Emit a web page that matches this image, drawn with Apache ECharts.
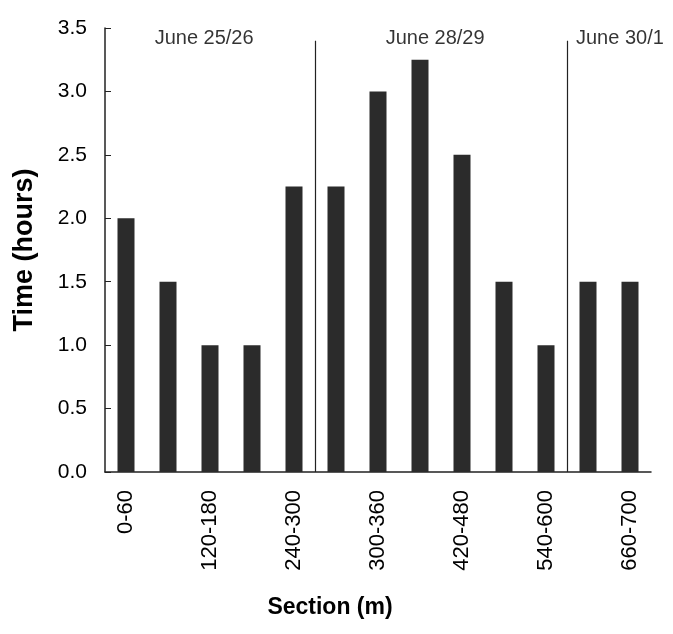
<!DOCTYPE html>
<html>
<head>
<meta charset="utf-8">
<script src="https://cdn.jsdelivr.net/npm/echarts@6/dist/echarts.min.js"></script>
<style>html,body{margin:0;padding:0;background:#fff;}#c{width:673px;height:634px;}</style>
</head>
<body>
<div id="c"></div>
<script>
var categories = ['0-60','60-120','120-180','180-240','240-300','240-300','300-360','360-420','420-480','480-540','540-600','600-660','660-700'];
var timeHours = [2.0,1.5,1.0,1.0,2.25,2.25,3.0,3.25,2.5,1.5,1.0,1.5,1.5];
var yTicks = [0,0.5,1.0,1.5,2.0,2.5,3.0,3.5];
var periodNames = ['June 25/26','June 28/29','June 30/1'];
var periodLabelPos = [1.86, 7.36, 11.76];
var periodBreaks = [4.5, 10.5];

var FONT = '"Liberation Sans", Arial, Helvetica, sans-serif';
var chart = echarts.init(document.getElementById('c'), null, {renderer:'canvas'});
chart.setOption({
  animation:false,
  backgroundColor:'#fff',
  grid:{left:105, right:22, top:28, bottom:162, containLabel:false, outerBoundsMode:'none'},
  xAxis:[{
    type:'category', data:categories, boundaryGap:true,
    name:'Section (m)', nameLocation:'middle', nameGap:124,
    nameTextStyle:{fontFamily:FONT, fontSize:23, fontWeight:'bold', color:'#000', padding:[0,96,0,0]},
    axisLine:{lineStyle:{color:'#222', width:1.5}},
    axisTick:{inside:true, length:5, interval:0, lineStyle:{color:'#222'}},
    axisLabel:{interval:1, rotate:90, fontFamily:FONT, fontSize:22, color:'#000', margin:18}
  },{
    type:'value', min:-0.5, max:12.5, show:false
  }],
  yAxis:{
    type:'value', min:0, max:3.5, interval:0.5,
    name:'Time (hours)', nameLocation:'middle', nameGap:67, nameRotate:90,
    nameTextStyle:{fontFamily:FONT, fontSize:27, fontWeight:'bold', color:'#000'},
    axisLine:{show:true, onZero:false, lineStyle:{color:'#222', width:1.5}},
    axisTick:{show:true, inside:true, length:6, lineStyle:{color:'#222'}},
    splitLine:{show:false},
    axisLabel:{fontFamily:FONT, fontSize:21, color:'#000', margin:18,
      formatter:function(v){return v.toFixed(1);}}
  },
  series:[{
    type:'bar', data:timeHours, barWidth:17,
    itemStyle:{color:'#2b2b2b'}
  },{
    type:'scatter', xAxisIndex:1, symbolSize:0,
    data:periodNames.map(function(n,i){return {value:[periodLabelPos[i],3.42], name:n};}),
    label:{show:true, position:'inside', formatter:'{b}', fontFamily:FONT, fontSize:20, color:'#000'},
    markLine:{
      symbol:'none', silent:true, label:{show:false},
      lineStyle:{color:'#222', width:1.2, type:'solid'},
      data:periodBreaks.map(function(x){return [{coord:[x,0]},{coord:[x,3.4]}];})
    }
  }]
});
</script>
</body>
</html>
